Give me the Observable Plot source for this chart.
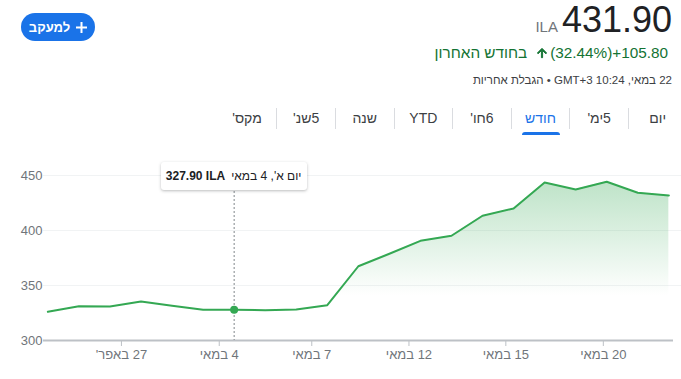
<!DOCTYPE html>
<html><head><meta charset="utf-8">
<script src="https://cdn.jsdelivr.net/npm/d3@7"></script>
<script src="https://cdn.jsdelivr.net/npm/@observablehq/plot@0.6"></script>
<style>
body{margin:0;width:681px;height:379px;position:relative;overflow:hidden;background:#fff;font-family:Arial,"Liberation Sans",sans-serif;}
#btn{position:absolute;left:21px;top:13px;width:74px;height:28px;border-radius:14px;background:#1a73e8;color:#fff;display:flex;flex-direction:row;direction:rtl;align-items:center;justify-content:center;gap:6px;font-size:13px;font-weight:bold;}
#price{position:absolute;right:9px;top:0;display:flex;align-items:baseline;line-height:40px;direction:ltr;}
#price .cur{font-size:15px;color:#70757a;margin-right:4px;}
#price .val{font-size:36px;color:#202124;}
#change{position:absolute;right:13px;top:43px;display:flex;direction:rtl;align-items:center;font-size:15.3px;color:#137333;line-height:20px;}
#meta{position:absolute;right:9px;top:72px;direction:rtl;font-size:11.5px;color:#3c4043;line-height:16px;white-space:nowrap;}
#tabs{position:absolute;left:217.5px;top:108px;width:469px;display:flex;direction:rtl;}
#tabs .tab{position:relative;width:58.6px;height:21px;line-height:21px;text-align:center;font-size:14px;color:#3c4043;box-sizing:border-box;border-left:1px solid #dadce0;}
#tabs .tab:last-child{border-left:none;}
#tabs .tab.active{color:#1a73e8;}
#tabs .tab .ul{position:absolute;top:24px;left:50%;margin-left:-19px;width:38px;height:3px;background:#1a73e8;border-radius:3px 3px 0 0;}
#chart{position:absolute;left:0;top:150px;}
#tip{position:absolute;top:162px;height:28px;width:146px;background:#fff;border-radius:3px;box-shadow:0 1px 3px rgba(60,64,67,.35);display:flex;direction:rtl;align-items:center;justify-content:center;gap:6px;font-size:12px;color:#202124;white-space:nowrap;}
#tip .v{font-weight:bold;}
</style></head><body>
<div id="btn"></div>
<div id="price"></div>
<div id="change"></div>
<div id="meta"></div>
<div id="tabs"></div>
<div id="chart"></div>
<div id="tip"></div>
<script>
// ---- data ----
const values = [326.1, 331.2, 330.9, 335.5, 331.6, 327.9, 327.9, 327.6, 328.2, 332.1, 367.5, 378.9, 390.6, 395.2, 413.4, 420.0, 443.6, 437.3, 444.3, 434.3, 431.9];
const tickPos = [2.37, 5.52, 8.5, 11.63, 14.75, 17.89];
const tickLabels = ["27 באפר'", "4 במאי", "7 במאי", "12 במאי", "15 במאי", "20 במאי"];
const yTicks = [300, 350, 400, 450];
const tipIndex = 6;
const tipDate = "יום א', 4 במאי";
const tipValue = "327.90 ILA";
const tabs = ["יום", "5ימ'", "חודש", "6חו'", "YTD", "שנה", "5שנ'", "מקס'"];
const activeTab = "חודש";
const currency = "ILA";
const lastPrice = "431.90";
const changeAbs = "+105.80";
const changePct = "(32.44%)";
const changePeriod = "בחודש האחרון";
const metaText = "22 במאי, 10:24 GMT+3 • הגבלת אחריות";
const followText = "למעקב";

// ---- header ----
document.getElementById("btn").innerHTML =
  `<svg width="11" height="11" viewBox="0 0 11 11"><path d="M5.5 0v11M0 5.5h11" stroke="#fff" stroke-width="2"/></svg><span>${followText}</span>`;
document.getElementById("price").innerHTML =
  `<span class="cur">${currency}</span><span class="val">${lastPrice}</span>`;
document.getElementById("change").innerHTML =
  `<span dir="ltr">${changeAbs}</span><span dir="ltr">${changePct}</span>` +
  `<svg width="14" height="14" viewBox="0 0 24 24" style="margin:0 1px 0 0"><path fill="#137333" d="M4 12l1.41 1.41L11 7.83V20h2V7.83l5.58 5.59L20 12l-8-8-8 8z" stroke="#137333" stroke-width="1.6"/></svg>` +
  `<span style="margin-right:8px">${changePeriod}</span>`;
document.getElementById("meta").textContent = metaText;
document.getElementById("tabs").innerHTML = tabs.map(t =>
  `<div class="tab${t === activeTab ? " active" : ""}">${t}${t === activeTab ? '<div class="ul"></div>' : ""}</div>`).join("");

// ---- chart ----
const data = values.map((v, i) => ({i, v}));
const green = "#34a853";
const chart = Plot.plot({
  width: 681,
  height: 229,
  marginTop: 25,
  marginBottom: 39,
  marginLeft: 43,
  marginRight: 8,
  x: {domain: [-0.14, 20.15]},
  y: {domain: [300, 450]},
  style: {fontFamily: "Arial, 'Liberation Sans', sans-serif", fontSize: "13px", color: "#70757a", background: "transparent", overflow: "visible"},
  marks: [
    () => {
      const defs = d3.create("svg:defs");
      const g = defs.append("linearGradient").attr("id", "areaGrad")
        .attr("x1", 0).attr("y1", 0).attr("x2", 0).attr("y2", 1);
      g.append("stop").attr("offset", 0).attr("stop-color", green).attr("stop-opacity", 0.32);
      g.append("stop").attr("offset", 0.72).attr("stop-color", green).attr("stop-opacity", 0);
      return defs.node();
    },
    Plot.ruleY([350, 400, 450], {stroke: "#f1f3f4", insetRight: -8}),
    Plot.areaY(data, {x: "i", y1: 300, y2: "v", fill: "url(#areaGrad)"}),
    Plot.axisY({ticks: yTicks, tickSize: 0, tickPadding: 1, label: null, fill: "#70757a", fontSize: 13}),
    Plot.axisX({ticks: tickPos, tickFormat: d => tickLabels[tickPos.indexOf(d)], tickSize: 6, tickPadding: 3, label: null, stroke: "#bdc1c6", fill: "#70757a", fontSize: 13}),
    Plot.ruleY([300], {stroke: "#bdc1c6", strokeWidth: 2}),
    Plot.ruleX([tipIndex], {stroke: "#80868b", strokeDasharray: "2,2"}),
    Plot.line(data, {x: "i", y: "v", stroke: green, strokeWidth: 2}),
    Plot.dot([data[tipIndex]], {x: "i", y: "v", r: 4, fill: green})
  ]
});
d3.select(chart).selectAll('g[aria-label="x-axis tick label"] text').attr("direction", "rtl");
document.getElementById("chart").appendChild(chart);

const tip = document.getElementById("tip");
tip.innerHTML = `<span>${tipDate}</span><span class="v" dir="ltr">${tipValue}</span>`;
const tx = chart.scale("x").apply(tipIndex);
tip.style.left = (tx - 73) + "px";
</script>
</body></html>
